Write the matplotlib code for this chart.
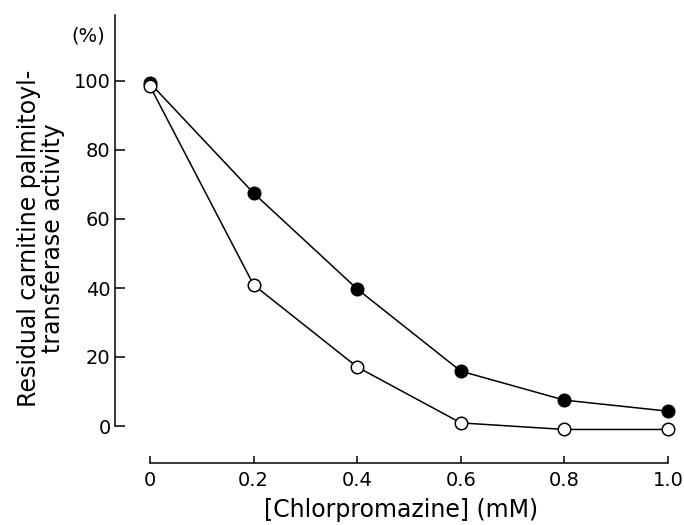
import matplotlib
matplotlib.use("Agg")
import matplotlib.pyplot as plt

conc = [0.0, 0.2, 0.4, 0.6, 0.8, 1.0]
filled_vals = [99.4, 67.5, 39.7, 15.9, 7.5, 4.3]
open_vals = [98.5, 40.9, 17.1, 0.9, -1.0, -1.0]
xticks = [0, 0.2, 0.4, 0.6, 0.8, 1.0]
xtick_labels = ["0", "0.2", "0.4", "0.6", "0.8", "1.0"]
yticks = [0, 20, 40, 60, 80, 100]
ytick_labels = ["0", "20", "40", "60", "80", "100"]

plt.rcParams['font.family'] = ['DejaVu Sans']

fig = plt.figure(figsize=(6.84, 5.25), dpi=100)
W, H = 684, 525
x0px, x1px = 150, 668
y0px = 426
ppu = 69 / 20.0
xmin, xmax = -0.25, 1.03
ymin, ymax = -14, 121
left = x0px + xmin * (x1px - x0px)
right = x0px + xmax * (x1px - x0px)
bottom = y0px - ymin * ppu
top = y0px - ymax * ppu
ax = fig.add_axes([left / W, 1 - bottom / H, (right - left) / W, (bottom - top) / H])
ax.set_xlim(xmin, xmax)
ax.set_ylim(ymin, ymax)

ax.plot(conc, filled_vals, color='black', lw=1.1, marker='o', ms=9,
        mfc='black', mec='black', mew=1.1, zorder=3)
ax.plot(conc, open_vals, color='black', lw=1.1, marker='o', ms=9,
        mfc='white', mec='black', mew=1.1, zorder=3)

for s in ['top', 'right']:
    ax.spines[s].set_visible(False)
ax.spines['left'].set_position(('data', -0.068))
ax.spines['left'].set_bounds(0, 119)
ax.spines['bottom'].set_position(('data', -10.7))
ax.spines['bottom'].set_bounds(0, 1.0)
for s in ['left', 'bottom']:
    ax.spines[s].set_linewidth(1.1)

ax.set_xticks(xticks)
ax.set_xticklabels(xtick_labels)
ax.set_yticks(yticks)
ax.set_yticklabels(ytick_labels)
ax.tick_params(axis='y', direction='in', length=7, width=1.1, labelsize=14, pad=3)
ax.tick_params(axis='x', direction='in', length=5, width=1.1, labelsize=14, pad=6)

ax.set_xlabel("[Chlorpromazine] (mM)", fontsize=17)
ax.xaxis.set_label_coords((401 - left) / (right - left), (bottom - 510) / (bottom - top))
ax.xaxis.label.set_va('center')
ax.text(-0.12, 113, "(%)", fontsize=14, ha='center', va='center')
fig.text(41 / W, 1 - 238 / H, "Residual carnitine palmitoyl-\ntransferase activity",
         rotation=90, ha='center', va='center', fontsize=17, multialignment='center',
         linespacing=1.0)

fig.savefig("out.png", dpi=100)
